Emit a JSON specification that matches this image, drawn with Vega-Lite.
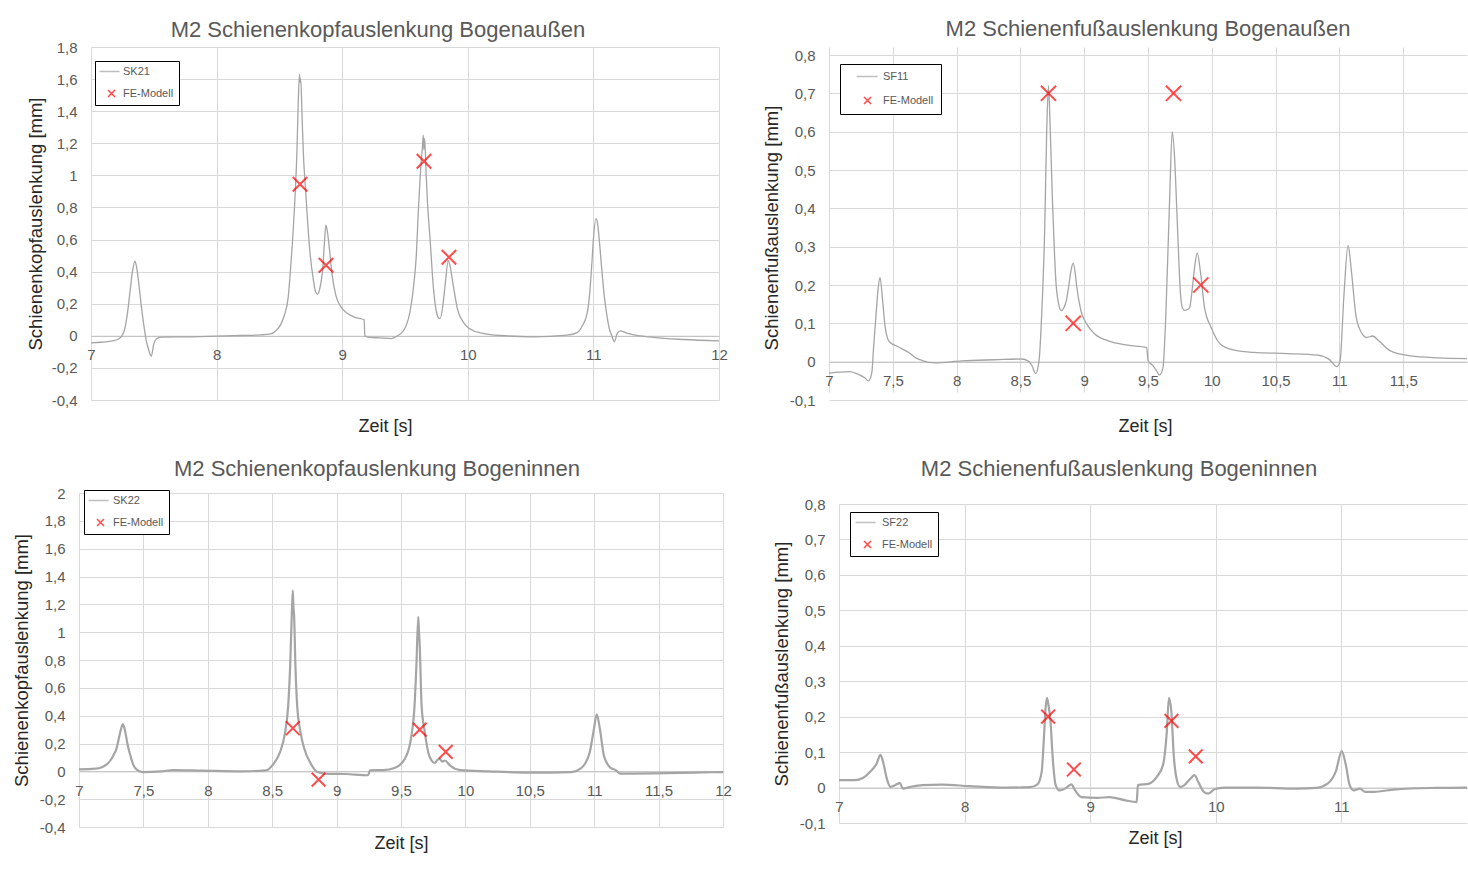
{
  "$schema": "https://vega.github.io/schema/vega-lite/v6.json",
  "background": "white",
  "padding": {"left": 12, "top": 18, "right": 0, "bottom": 0},
  "config": {
    "font": "Liberation Sans",
    "view": {"stroke": null},
    "title": {"font": "Liberation Sans", "fontSize": 22, "fontWeight": "normal", "color": "#595959", "anchor": "middle"},
    "axis": {
      "grid": true, "gridColor": "#d9d9d9", "gridWidth": 1, "ticks": false, "domain": false, "labelOverlap": false, "tickCount": 40,
      "labelColor": "#595959", "labelFontSize": 15, "labelFont": "Liberation Sans",
      "format": "~g", "labelExpr": "replace(replace(datum.label, '.', ','), '−', '-')",
      "titleFontWeight": "normal", "titleColor": "#262626", "titleFontSize": 18
    },
    "axisX": {"domain": true, "domainColor": "#bfbfbf", "labelPadding": 12, "labelFlush": false, "titleFont": "Liberation Sans"},
    "axisY": {"labelPadding": 14, "minExtent": 42, "maxExtent": 42, "titlePadding": 6, "titleFont": "Liberation Sans", "titleFontSize": 18.5},
    "legend": {"orient": "none", "strokeColor": "black", "fillColor": "white", "padding": 5, "rowPadding": 10,
      "labelFontSize": 11, "labelColor": "#595959", "labelFont": "Liberation Sans",
      "symbolSize": 49, "symbolStrokeWidth": 1.5, "symbolOffset": 6, "labelOffset": 6}
  },
  "resolve": {
    "scale": {"color": "independent", "shape": "independent"},
    "legend": {"color": "independent", "shape": "independent"}
  },
  "datasets": {
    "sk21": [
      {"t":7,"v":-0.044},{"t":7.08,"v":-0.04},{"t":7.16,"v":-0.033},{"t":7.22,"v":-0.02},{"t":7.26,"v":0.02},{"t":7.29,"v":0.14},{"t":7.31,"v":0.27},{"t":7.33,"v":0.40},{"t":7.35,"v":0.465},{"t":7.36,"v":0.44},{"t":7.38,"v":0.33},{"t":7.40,"v":0.19},{"t":7.42,"v":0.07},{"t":7.44,"v":-0.03},{"t":7.46,"v":-0.09},{"t":7.48,"v":-0.127},{"t":7.5,"v":-0.05},{"t":7.52,"v":-0.02},{"t":7.56,"v":-0.008},{"t":7.7,"v":-0.007},{"t":7.8,"v":-0.006},{"t":8.0,"v":-0.002},{"t":8.19,"v":0.002},{"t":8.35,"v":0.006},{"t":8.43,"v":0.012},{"t":8.47,"v":0.03},{"t":8.51,"v":0.07},{"t":8.54,"v":0.13},{"t":8.57,"v":0.24},{"t":8.59,"v":0.43},{"t":8.61,"v":0.66},{"t":8.62,"v":0.8},{"t":8.64,"v":1.16},{"t":8.65,"v":1.45},{"t":8.66,"v":1.63},{"t":8.665,"v":1.58},{"t":8.67,"v":1.6},{"t":8.68,"v":1.38},{"t":8.69,"v":1.15},{"t":8.71,"v":0.89},{"t":8.74,"v":0.55},{"t":8.77,"v":0.35},{"t":8.79,"v":0.27},{"t":8.805,"v":0.26},{"t":8.82,"v":0.29},{"t":8.845,"v":0.42},{"t":8.86,"v":0.6},{"t":8.87,"v":0.69},{"t":8.88,"v":0.66},{"t":8.9,"v":0.53},{"t":8.92,"v":0.38},{"t":8.95,"v":0.25},{"t":8.99,"v":0.18},{"t":9.04,"v":0.14},{"t":9.1,"v":0.115},{"t":9.175,"v":0.1},{"t":9.18,"v":0.0},{"t":9.22,"v":-0.01},{"t":9.3,"v":-0.013},{"t":9.39,"v":-0.017},{"t":9.44,"v":0.0},{"t":9.48,"v":0.025},{"t":9.51,"v":0.065},{"t":9.54,"v":0.15},{"t":9.57,"v":0.32},{"t":9.59,"v":0.5},{"t":9.605,"v":0.76},{"t":9.62,"v":0.98},{"t":9.63,"v":1.1},{"t":9.64,"v":1.19},{"t":9.645,"v":1.25},{"t":9.65,"v":1.16},{"t":9.655,"v":1.23},{"t":9.66,"v":1.18},{"t":9.67,"v":0.98},{"t":9.68,"v":0.82},{"t":9.70,"v":0.60},{"t":9.725,"v":0.31},{"t":9.75,"v":0.15},{"t":9.77,"v":0.11},{"t":9.78,"v":0.108},{"t":9.8,"v":0.18},{"t":9.82,"v":0.32},{"t":9.845,"v":0.47},{"t":9.86,"v":0.43},{"t":9.885,"v":0.31},{"t":9.92,"v":0.16},{"t":9.96,"v":0.09},{"t":9.99,"v":0.06},{"t":10.05,"v":0.03},{"t":10.10,"v":0.019},{"t":10.26,"v":0.002},{"t":10.52,"v":-0.006},{"t":10.79,"v":0.004},{"t":10.87,"v":0.02},{"t":10.91,"v":0.06},{"t":10.95,"v":0.14},{"t":10.97,"v":0.26},{"t":10.986,"v":0.43},{"t":11.0,"v":0.6},{"t":11.02,"v":0.73},{"t":11.035,"v":0.69},{"t":11.05,"v":0.57},{"t":11.065,"v":0.43},{"t":11.085,"v":0.26},{"t":11.105,"v":0.14},{"t":11.125,"v":0.05},{"t":11.145,"v":0.004},{"t":11.167,"v":-0.037},{"t":11.19,"v":0.015},{"t":11.217,"v":0.031},{"t":11.25,"v":0.022},{"t":11.29,"v":0.012},{"t":11.48,"v":-0.01},{"t":11.72,"v":-0.023},{"t":12,"v":-0.031}
    ],
    "fe_sk21": [
      {"t":8.664,"v":0.945,"s":"FE-Modell"},{"t":8.871,"v":0.44,"s":"FE-Modell"},{"t":9.651,"v":1.088,"s":"FE-Modell"},{"t":9.85,"v":0.49,"s":"FE-Modell"}
    ],
    "sf11": [
      {"t":7,"v":-0.03},{"t":7.16,"v":-0.026},{"t":7.23,"v":-0.033},{"t":7.28,"v":-0.042},{"t":7.31,"v":-0.05},{"t":7.335,"v":-0.03},{"t":7.35,"v":0.04},{"t":7.365,"v":0.106},{"t":7.385,"v":0.19},{"t":7.40,"v":0.22},{"t":7.42,"v":0.16},{"t":7.44,"v":0.09},{"t":7.46,"v":0.06},{"t":7.48,"v":0.05},{"t":7.53,"v":0.041},{"t":7.58,"v":0.032},{"t":7.625,"v":0.024},{"t":7.68,"v":0.01},{"t":7.73,"v":0.003},{"t":7.83,"v":-0.003},{"t":8.04,"v":0.002},{"t":8.3,"v":0.005},{"t":8.51,"v":0.007},{"t":8.56,"v":0.002},{"t":8.59,"v":-0.01},{"t":8.62,"v":-0.031},{"t":8.646,"v":0.002},{"t":8.667,"v":0.124},{"t":8.69,"v":0.34},{"t":8.706,"v":0.60},{"t":8.72,"v":0.72},{"t":8.73,"v":0.647},{"t":8.75,"v":0.43},{"t":8.765,"v":0.3},{"t":8.776,"v":0.22},{"t":8.80,"v":0.15},{"t":8.82,"v":0.133},{"t":8.84,"v":0.14},{"t":8.86,"v":0.159},{"t":8.88,"v":0.2},{"t":8.896,"v":0.237},{"t":8.914,"v":0.257},{"t":8.93,"v":0.23},{"t":8.94,"v":0.20},{"t":8.974,"v":0.133},{"t":9.02,"v":0.098},{"t":9.083,"v":0.072},{"t":9.19,"v":0.054},{"t":9.34,"v":0.043},{"t":9.49,"v":0.037},{"t":9.5,"v":0.003},{"t":9.54,"v":-0.011},{"t":9.57,"v":-0.025},{"t":9.59,"v":-0.035},{"t":9.617,"v":-0.016},{"t":9.64,"v":0.124},{"t":9.67,"v":0.43},{"t":9.69,"v":0.60},{"t":9.708,"v":0.534},{"t":9.73,"v":0.36},{"t":9.755,"v":0.176},{"t":9.77,"v":0.14},{"t":9.786,"v":0.134},{"t":9.81,"v":0.136},{"t":9.826,"v":0.141},{"t":9.85,"v":0.2},{"t":9.865,"v":0.246},{"t":9.886,"v":0.283},{"t":9.91,"v":0.237},{"t":9.943,"v":0.141},{"t":9.995,"v":0.089},{"t":10.07,"v":0.045},{"t":10.18,"v":0.030},{"t":10.33,"v":0.024},{"t":10.594,"v":0.021},{"t":10.83,"v":0.017},{"t":10.92,"v":0.006},{"t":10.98,"v":-0.013},{"t":11.005,"v":0.002},{"t":11.036,"v":0.176},{"t":11.068,"v":0.303},{"t":11.094,"v":0.237},{"t":11.128,"v":0.124},{"t":11.166,"v":0.08},{"t":11.214,"v":0.063},{"t":11.26,"v":0.067},{"t":11.31,"v":0.054},{"t":11.4,"v":0.028},{"t":11.56,"v":0.015},{"t":11.77,"v":0.010},{"t":12,"v":0.008}
    ],
    "fe_sf11": [
      {"t":8.72,"v":0.70,"s":"FE-Modell"},{"t":8.914,"v":0.10,"s":"FE-Modell"},{"t":9.70,"v":0.70,"s":"FE-Modell"},{"t":9.914,"v":0.20,"s":"FE-Modell"}
    ],
    "sk22": [
      {"t":7,"v":0.014},{"t":7.13,"v":0.019},{"t":7.22,"v":0.054},{"t":7.27,"v":0.12},{"t":7.29,"v":0.16},{"t":7.32,"v":0.28},{"t":7.34,"v":0.34},{"t":7.35,"v":0.32},{"t":7.366,"v":0.25},{"t":7.38,"v":0.18},{"t":7.40,"v":0.11},{"t":7.42,"v":0.05},{"t":7.446,"v":0.014},{"t":7.49,"v":-0.005},{"t":7.64,"v":0},{"t":7.73,"v":0.009},{"t":7.955,"v":0.005},{"t":8.27,"v":0},{"t":8.45,"v":0.007},{"t":8.51,"v":0.054},{"t":8.56,"v":0.136},{"t":8.6,"v":0.28},{"t":8.624,"v":0.47},{"t":8.64,"v":0.77},{"t":8.653,"v":1.15},{"t":8.66,"v":1.3},{"t":8.665,"v":1.18},{"t":8.67,"v":1.12},{"t":8.68,"v":0.77},{"t":8.694,"v":0.47},{"t":8.72,"v":0.28},{"t":8.75,"v":0.16},{"t":8.8,"v":0.054},{"t":8.85,"v":-0.005},{"t":8.91,"v":-0.016},{"t":9.07,"v":-0.019},{"t":9.245,"v":-0.028},{"t":9.26,"v":0.007},{"t":9.36,"v":0.009},{"t":9.45,"v":0.024},{"t":9.53,"v":0.09},{"t":9.58,"v":0.25},{"t":9.605,"v":0.47},{"t":9.62,"v":0.77},{"t":9.634,"v":1.11},{"t":9.64,"v":1.0},{"t":9.646,"v":0.89},{"t":9.66,"v":0.47},{"t":9.685,"v":0.28},{"t":9.72,"v":0.11},{"t":9.764,"v":0.06},{"t":9.78,"v":0.08},{"t":9.80,"v":0.09},{"t":9.82,"v":0.07},{"t":9.84,"v":0.078},{"t":9.88,"v":0.042},{"t":9.96,"v":0.009},{"t":10.18,"v":0},{"t":10.5,"v":-0.009},{"t":10.82,"v":-0.005},{"t":10.9,"v":0.024},{"t":10.965,"v":0.136},{"t":10.997,"v":0.3},{"t":11.02,"v":0.41},{"t":11.045,"v":0.3},{"t":11.076,"v":0.11},{"t":11.124,"v":0.028},{"t":11.17,"v":0.007},{"t":11.2,"v":-0.016},{"t":11.46,"v":-0.014},{"t":11.78,"v":-0.009},{"t":12,"v":-0.005}
    ],
    "fe_sk22": [
      {"t":8.66,"v":0.31,"s":"FE-Modell"},{"t":8.86,"v":-0.06,"s":"FE-Modell"},{"t":9.645,"v":0.30,"s":"FE-Modell"},{"t":9.847,"v":0.14,"s":"FE-Modell"}
    ],
    "sf22": [
      {"t":7,"v":0.021},{"t":7.127,"v":0.021},{"t":7.19,"v":0.027},{"t":7.25,"v":0.045},{"t":7.30,"v":0.068},{"t":7.33,"v":0.092},{"t":7.354,"v":0.068},{"t":7.38,"v":0.026},{"t":7.41,"v":0.002},{"t":7.46,"v":0.009},{"t":7.484,"v":0.013},{"t":7.51,"v":-0.003},{"t":7.57,"v":0.002},{"t":7.665,"v":0.007},{"t":7.82,"v":0.008},{"t":8.04,"v":0.004},{"t":8.33,"v":0},{"t":8.52,"v":0.001},{"t":8.58,"v":0.009},{"t":8.614,"v":0.045},{"t":8.63,"v":0.13},{"t":8.645,"v":0.225},{"t":8.655,"v":0.253},{"t":8.667,"v":0.234},{"t":8.684,"v":0.187},{"t":8.70,"v":0.092},{"t":8.725,"v":0.007},{"t":8.756,"v":-0.008},{"t":8.80,"v":-0.003},{"t":8.85,"v":0.009},{"t":8.88,"v":-0.008},{"t":8.93,"v":-0.027},{"t":9.057,"v":-0.029},{"t":9.15,"v":-0.027},{"t":9.28,"v":-0.036},{"t":9.37,"v":-0.041},{"t":9.38,"v":0.007},{"t":9.47,"v":0.011},{"t":9.53,"v":0.03},{"t":9.58,"v":0.064},{"t":9.61,"v":0.158},{"t":9.627,"v":0.253},{"t":9.646,"v":0.215},{"t":9.665,"v":0.092},{"t":9.69,"v":0.021},{"t":9.715,"v":0.002},{"t":9.75,"v":0.007},{"t":9.80,"v":0.026},{"t":9.83,"v":0.035},{"t":9.86,"v":0.016},{"t":9.905,"v":-0.012},{"t":9.94,"v":-0.017},{"t":9.99,"v":-0.005},{"t":10.07,"v":0},{"t":10.32,"v":0},{"t":10.64,"v":-0.003},{"t":10.8,"v":-0.001},{"t":10.89,"v":0.011},{"t":10.955,"v":0.045},{"t":11.003,"v":0.103},{"t":11.035,"v":0.064},{"t":11.066,"v":0.007},{"t":11.10,"v":-0.008},{"t":11.146,"v":-0.003},{"t":11.19,"v":-0.012},{"t":11.26,"v":-0.012},{"t":11.43,"v":-0.005},{"t":11.75,"v":-0.001},{"t":12,"v":0}
    ],
    "fe_sf22": [
      {"t":8.665,"v":0.20,"s":"FE-Modell"},{"t":8.87,"v":0.051,"s":"FE-Modell"},{"t":9.647,"v":0.188,"s":"FE-Modell"},{"t":9.84,"v":0.088,"s":"FE-Modell"}
    ]
  },
  "columns": 2,
  "align": "none",
  "bounds": "full",
  "spacing": {"row": 22, "column": 30},
  "concat": [
    {
      "width": 640, "height": 353,
      "title": {"text": "M2 Schienenkopfauslenkung Bogenaußen", "offset": -2, "dx": -21},
      "layer": [
        {"data": {"name": "sk21"}, "mark": {"type": "line", "color": "#a5a5a5", "strokeWidth": 1.3, "interpolate": "monotone"},
         "encoding": {
           "x": {"field": "t", "type": "quantitative", "scale": {"domain": [7, 12], "range": [12, 640], "nice": false, "zero": false},
                 "axis": {"values": [7, 8, 9, 10, 11, 12], "offset": -64.2, "title": "Zeit [s]", "titleX": 306, "titleY": 82}},
           "y": {"field": "v", "type": "quantitative", "scale": {"domain": [-0.4, 1.8], "nice": false, "zero": false},
                 "axis": {"values": [-0.4, -0.2, 0, 0.2, 0.4, 0.6, 0.8, 1, 1.2, 1.4, 1.6, 1.8], "offset": -12, "titlePadding": 4, "title": "Schienenkopfauslenkung [mm]"}}
         }},
        {"data": {"name": "fe_sk21"}, "mark": {"type": "point", "filled": false, "strokeWidth": 2, "size": 210},
         "encoding": {
           "x": {"field": "t", "type": "quantitative"},
           "y": {"field": "v", "type": "quantitative"},
           "color": {"field": "s", "type": "nominal", "scale": {"domain": ["SK21", "FE-Modell"], "range": ["#a5a5a5", "#ff0000"]}, "legend": {"title": null, "legendX": 16, "legendY": 14, "symbolSize": 49, "padding": 5, "rowPadding": 10, "symbolOffset": 6, "labelOffset": 6}},
           "shape": {"field": "s", "type": "nominal", "scale": {"domain": ["SK21", "FE-Modell"], "range": ["M-3.4,0L2.3,0", "M-1,-1L1,1M-1,1L1,-1"]}, "legend": {"title": null, "legendX": 16, "legendY": 14, "symbolSize": 49, "padding": 5, "rowPadding": 10, "symbolOffset": 6, "labelOffset": 6}}
         }}
      ]
    },
    {
      "width": 638, "height": 353,
      "title": {"text": "M2 Schienenfußauslenkung Bogenaußen", "offset": 6, "dx": 0},
      "layer": [
        {"data": {"name": "sf11"}, "mark": {"type": "line", "color": "#a5a5a5", "strokeWidth": 1.3, "interpolate": "monotone"},
         "encoding": {
           "x": {"field": "t", "type": "quantitative", "scale": {"domain": [7, 12], "nice": false, "zero": false},
                 "axis": {"values": [7, 7.5, 8, 8.5, 9, 9.5, 10, 10.5, 11, 11.5], "offset": -38.3, "title": "Zeit [s]", "titleX": 316, "titleY": 56}},
           "y": {"field": "v", "type": "quantitative", "scale": {"domain": [-0.1, 0.8], "range": [353, 8], "nice": false, "zero": false},
                 "axis": {"values": [-0.1, 0, 0.1, 0.2, 0.3, 0.4, 0.5, 0.6, 0.7, 0.8], "title": "Schienenfußauslenkung [mm]"}}
         }},
        {"data": {"name": "fe_sf11"}, "mark": {"type": "point", "filled": false, "strokeWidth": 2, "size": 230},
         "encoding": {
           "x": {"field": "t", "type": "quantitative"},
           "y": {"field": "v", "type": "quantitative"},
           "color": {"field": "s", "type": "nominal", "scale": {"domain": ["SF11", "FE-Modell"], "range": ["#a5a5a5", "#ff0000"]}, "legend": {"title": null, "legendX": 11, "legendY": 17, "symbolSize": 49, "padding": 7, "rowPadding": 12, "symbolOffset": 15, "labelOffset": 10}},
           "shape": {"field": "s", "type": "nominal", "scale": {"domain": ["SF11", "FE-Modell"], "range": ["M-3.1,0L2.9,0", "M-1,-1L1,1M-1,1L1,-1"]}, "legend": {"title": null, "legendX": 11, "legendY": 17, "symbolSize": 49, "padding": 7, "rowPadding": 12, "symbolOffset": 15, "labelOffset": 10}}
         }}
      ]
    },
    {
      "width": 644, "height": 334,
      "title": {"text": "M2 Schienenkopfauslenkung Bogeninnen", "offset": 5, "dx": -24},
      "layer": [
        {"data": {"name": "sk22"}, "mark": {"type": "line", "color": "#a5a5a5", "strokeWidth": 2.2, "interpolate": "monotone"},
         "encoding": {
           "x": {"field": "t", "type": "quantitative", "scale": {"domain": [7, 12], "nice": false, "zero": false},
                 "axis": {"values": [7, 7.5, 8, 8.5, 9, 9.5, 10, 10.5, 11, 11.5, 12], "offset": -55.7, "title": "Zeit [s]", "titleX": 322, "titleY": 63}},
           "y": {"field": "v", "type": "quantitative", "scale": {"domain": [-0.4, 2], "nice": false, "zero": false},
                 "axis": {"values": [-0.4, -0.2, 0, 0.2, 0.4, 0.6, 0.8, 1, 1.2, 1.4, 1.6, 1.8, 2], "title": "Schienenkopfauslenkung [mm]"}}
         }},
        {"data": {"name": "fe_sk22"}, "mark": {"type": "point", "filled": false, "strokeWidth": 2, "size": 190},
         "encoding": {
           "x": {"field": "t", "type": "quantitative"},
           "y": {"field": "v", "type": "quantitative"},
           "color": {"field": "s", "type": "nominal", "scale": {"domain": ["SK22", "FE-Modell"], "range": ["#a5a5a5", "#ff0000"]}, "legend": {"title": null, "legendX": 5, "legendY": -3, "symbolSize": 49, "padding": 5, "rowPadding": 10, "symbolOffset": 6, "labelOffset": 7}},
           "shape": {"field": "s", "type": "nominal", "scale": {"domain": ["SK22", "FE-Modell"], "range": ["M-3.4,0L2.3,0", "M-1,-1L1,1M-1,1L1,-1"]}, "legend": {"title": null, "legendX": 5, "legendY": -3, "symbolSize": 49, "padding": 5, "rowPadding": 10, "symbolOffset": 6, "labelOffset": 7}}
         }}
      ]
    },
    {
      "width": 628, "height": 319,
      "title": {"text": "M2 Schienenfußauslenkung Bogeninnen", "offset": 16, "dx": -34},
      "layer": [
        {"data": {"name": "sf22"}, "mark": {"type": "line", "color": "#a5a5a5", "strokeWidth": 2.2, "interpolate": "monotone"},
         "encoding": {
           "x": {"field": "t", "type": "quantitative", "scale": {"domain": [7, 12], "nice": false, "zero": false},
                 "axis": {"values": [7, 8, 9, 10, 11], "offset": -35.4, "title": "Zeit [s]", "titleX": 316, "titleY": 42}},
           "y": {"field": "v", "type": "quantitative", "scale": {"domain": [-0.1, 0.8], "nice": false, "zero": false},
                 "axis": {"values": [-0.1, 0, 0.1, 0.2, 0.3, 0.4, 0.5, 0.6, 0.7, 0.8], "title": ["", "Schienenfußauslenkung [mm]"], "titleLineHeight": 10}}
         }},
        {"data": {"name": "fe_sf22"}, "mark": {"type": "point", "filled": false, "strokeWidth": 2, "size": 190},
         "encoding": {
           "x": {"field": "t", "type": "quantitative"},
           "y": {"field": "v", "type": "quantitative"},
           "color": {"field": "s", "type": "nominal", "scale": {"domain": ["SF22", "FE-Modell"], "range": ["#a5a5a5", "#ff0000"]}, "legend": {"title": null, "legendX": 11, "legendY": 8, "symbolSize": 49, "padding": 5, "rowPadding": 10, "symbolOffset": 7, "labelOffset": 9}},
           "shape": {"field": "s", "type": "nominal", "scale": {"domain": ["SF22", "FE-Modell"], "range": ["M-3.4,0L2.3,0", "M-1,-1L1,1M-1,1L1,-1"]}, "legend": {"title": null, "legendX": 11, "legendY": 8, "symbolSize": 49, "padding": 5, "rowPadding": 10, "symbolOffset": 7, "labelOffset": 9}}
         }}
      ]
    }
  ]
}
